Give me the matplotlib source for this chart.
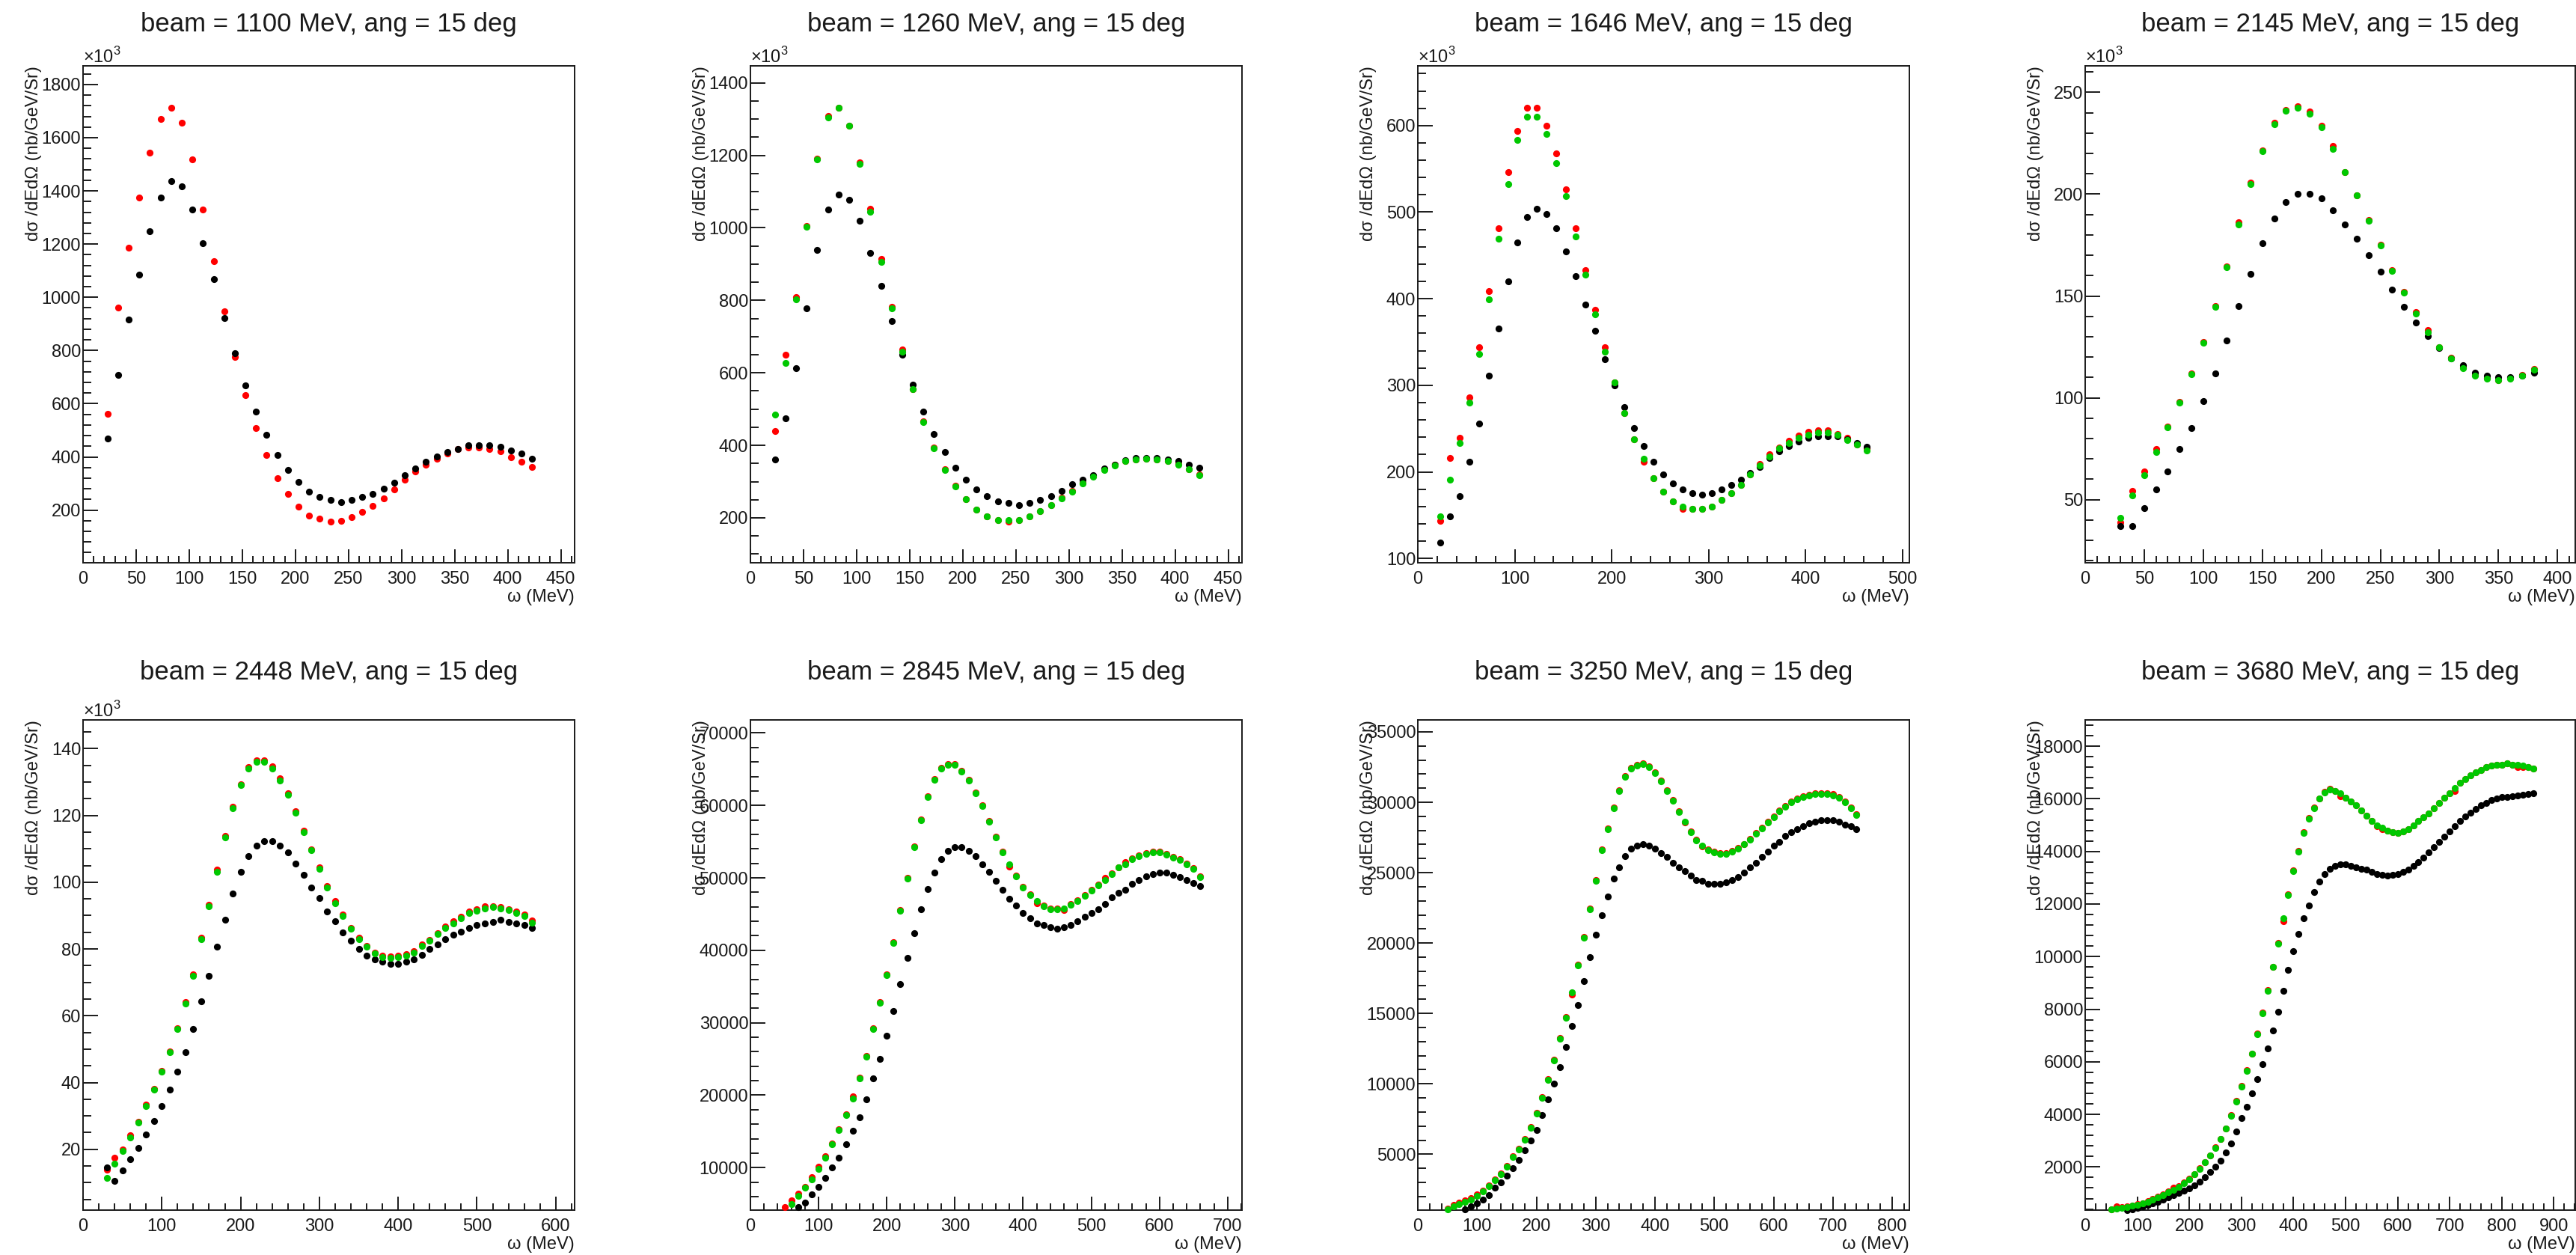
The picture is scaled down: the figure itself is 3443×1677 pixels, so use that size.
import numpy as np
import matplotlib
matplotlib.use('Agg')
import matplotlib.pyplot as plt
from matplotlib.ticker import MultipleLocator, FuncFormatter

plt.rcParams['font.family'] = ['Liberation Sans', 'DejaVu Sans']
plt.rcParams['mathtext.fontset'] = 'custom'
plt.rcParams['mathtext.rm'] = 'Liberation Sans'

nan = np.nan

beams = [1100, 1260, 1646, 2145, 2448, 2845, 3250, 3680]
angle = 15

# omega grid of each panel (MeV), step 10
omega_start = [23, 23, 23, 30, 30, 50, 50, 50]
omega_stop = [423, 423, 463, 380, 570, 660, 740, 860]

# cross sections, in units of 10^3 nb/GeV/Sr
black_1100 = [468, 708, 916, 1085, 1248, 1375, 1438, 1417, 1329, 1204, 1067, 921, 789, 670, 569, 482, 406,
              351, 307, 269, 250, 237, 231, 237, 250, 262, 280, 304, 331, 357, 382, 402, 418, 430, 443, 443,
              443, 438, 424, 412, 394]
red_1100 = [563, 960, 1185, 1375, 1544, 1670, 1713, 1657, 1518, 1329, 1135, 948, 777, 633, 507, 406, 320,
            262, 212, 179, 167, 156, 160, 174, 192, 216, 243, 277, 314, 345, 370, 394, 414, 430, 436, 436,
            430, 420, 400, 381, 361]

black_1260 = [360, 474, 613, 779, 940, 1051, 1091, 1078, 1019, 930, 840, 743, 650, 568, 494, 432, 382, 338,
              306, 278, 259, 245, 241, 236, 241, 250, 259, 274, 292, 306, 318, 336, 347, 358, 366, 366, 366,
              360, 356, 347, 338]
red_1260 = [439, 651, 809, 1006, 1190, 1308, 1332, 1282, 1181, 1052, 914, 783, 665, 556, 466, 393, 334, 288,
            252, 223, 204, 194, 189, 194, 204, 219, 235, 255, 274, 296, 315, 334, 346, 357, 361, 364, 361,
            357, 348, 335, 319]
green_1260 = [484, 628, 802, 1004, 1189, 1304, 1331, 1281, 1176, 1045, 907, 778, 659, 554, 465, 392, 333,
              287, 251, 222, 203, 193, 193, 193, 203, 218, 234, 254, 273, 295, 314, 333, 345, 356, 360, 363,
              360, 356, 347, 334, 318]

black_1646 = [118, 149, 172, 212, 256, 311, 366, 420, 465, 494, 504, 498, 481, 455, 426, 393, 363, 330, 300,
              275, 251, 230, 212, 197, 187, 180, 175, 174, 175, 180, 185, 191, 199, 206, 216, 224, 230, 235,
              239, 241, 241, 241, 238, 233, 229]
red_1646 = [143, 216, 239, 286, 344, 409, 481, 546, 594, 621, 621, 600, 568, 526, 481, 433, 387, 344, 303,
            268, 238, 212, 193, 177, 166, 157, 157, 157, 160, 168, 175, 185, 197, 209, 220, 228, 236, 242,
            246, 248, 248, 244, 239, 232, 227]
green_1646 = [149, 191, 233, 280, 336, 399, 469, 532, 583, 610, 610, 590, 557, 519, 472, 428, 382, 339, 303,
              268, 238, 215, 193, 177, 166, 160, 157, 157, 160, 168, 175, 185, 197, 207, 218, 227, 233, 239,
              243, 245, 245, 243, 237, 232, 225]

black_2145 = [37, 37, 46, 55, 64, 75, 85, 98.5, 112, 128, 145, 161, 176, 188, 196, 200, 200, 198, 192, 185,
              178, 170, 162, 153, 144.5, 137, 130.5, 124.5, 119.5, 116, 112.5, 111, 110, 110, 111, 112.5]
red_2145 = [39, 54.3, 64, 75, 86, 98, 112, 127.5, 145, 164.5, 186.3, 205.5, 221.5, 235, 241.5, 243, 240.6,
            233.5, 223.5, 211, 199.5, 187.3, 175, 162.6, 152, 142, 133.3, 125, 119.6, 114.8, 111.2, 109.7,
            108.7, 109.7, 111.2, 114]
green_2145 = [41, 52, 62, 73.5, 85.5, 97.5, 111.5, 127, 144.5, 164, 185, 205, 221, 234.5, 241, 242.5, 239.5,
              233, 222.3, 210.7, 199.3, 187, 174.8, 162.4, 151.8, 141.2, 132, 124.7, 119.4, 114.6, 111,
              109.5, 108.5, 109.5, 111, 113.7]

black_2448 = [14.5, 10.5, 13.6, 17.1, 20.5, 24.5, 28.4, 32.9, 37.9, 43.3, 49.1, 56, 64.3, 72, 80.6, 88.8,
              96.6, 103, 107.8, 110.9, 112.4, 112.4, 110.9, 108.9, 105.5, 102.2, 98.5, 95.3, 91.3, 88.3, 85,
              82.4, 80, 78, 76.8, 76.1, 75.5, 75.5, 76.1, 76.8, 78.2, 80, 81.4, 83, 84.2, 85.1, 86.3, 87.1,
              87.7, 88.1, 88.8, 88.1, 87.7, 87.1, 86.3]
red_2448 = [13.8, 17.6, 20, 24.2, 28.3, 33.3, 38, 43.5, 49.4, 56.2, 64, 72.3, 83.3, 93.2, 103.8, 113.8, 122.6,
            129.4, 134.4, 136.5, 136.5, 134.7, 131.2, 126.6, 121.2, 115.4, 109.9, 104.5, 98.9, 94.3, 90.3,
            86.4, 83.4, 81, 79, 78, 77.7, 78, 78.4, 79.4, 81.4, 82.8, 84.8, 86.7, 88.3, 89.7, 91.3, 91.9,
            92.7, 92.8, 92.5, 92, 91.3, 90.3, 88.6]
green_2448 = [11.5, 15.6, 19.5, 23.5, 28, 33, 37.8, 43.3, 49.2, 56, 63.7, 72, 83, 92.8, 103, 113.4, 122.2,
              129, 134, 136.1, 136.1, 134, 130.5, 126.2, 120.8, 115, 109.5, 104.1, 98.5, 93.7, 89.9, 86, 83,
              80.6, 78.6, 77.6, 77.3, 77.6, 78, 78.8, 81, 82.4, 84.4, 86.3, 87.7, 89.3, 90.7, 91.5, 92.1,
              92.5, 92.1, 91.6, 90.7, 89.9, 87.9]

black_2845 = [nan, nan, 4.6, 5.2, 6.35, 7.35, 8.6, 10.0, 11.4, 13.2, 15.1, 17.0, 19.4, 22.3, 25.0, 28.2,
              31.6, 35.3, 39.0, 42.4, 45.7, 48.5, 50.7, 52.6, 53.7, 54.2, 54.2, 53.7, 53.0, 51.9, 50.8, 49.6,
              48.3, 47.1, 46.2, 45.1, 44.4, 43.7, 43.5, 43.2, 43.0, 43.2, 43.5, 44.0, 44.6, 45.2, 45.7, 46.4,
              47.3, 47.9, 48.4, 49.2, 49.7, 50.2, 50.5, 50.7, 50.7, 50.4, 50.1, 49.7, 49.3, 48.9]
red_2845 = [4.6, 5.5, 6.4, 7.3, 8.7, 10.1, 11.6, 13.3, 15.3, 17.4, 19.8, 22.4, 25.4, 29.2, 32.9, 36.7, 41.1,
            45.6, 50.0, 54.3, 58.1, 61.3, 63.6, 65.2, 65.7, 65.7, 64.8, 63.5, 61.8, 60.0, 57.9, 55.7, 53.6,
            51.6, 50.3, 48.8, 47.7, 46.5, 46.2, 45.8, 45.8, 45.6, 46.4, 46.9, 47.6, 48.3, 49.1, 50.0, 50.6,
            51.5, 52.2, 52.7, 53.1, 53.4, 53.6, 53.6, 53.3, 52.9, 52.6, 52.0, 51.3, 50.2]
green_2845 = [4.1, 5.0, 6.1, 7.2, 8.4, 9.8, 11.4, 13.2, 15.2, 17.3, 19.5, 22.3, 25.3, 29.1, 32.8, 36.6, 41.0,
              45.5, 49.9, 54.2, 58.0, 61.2, 63.5, 65.1, 65.6, 65.6, 64.7, 63.4, 61.7, 59.9, 57.8, 55.6, 53.5,
              51.9, 50.2, 48.7, 47.6, 46.8, 46.1, 45.7, 45.7, 45.8, 46.3, 46.8, 47.5, 48.2, 49.0, 49.7, 50.5,
              51.4, 51.9, 52.6, 53.0, 53.3, 53.5, 53.5, 53.2, 52.8, 52.5, 51.9, 51.2, 50.1]

black_3250 = [nan, nan, nan, 1.1, 1.3, 1.5, 1.8, 2.1, 2.6, 3.0, 3.5, 4.0, 4.6, 5.3, 6.0, 6.7, 7.8, 8.9, 10.0,
              11.2, 12.6, 14.1, 15.6, 17.3, 19.0, 20.6, 22.0, 23.3, 24.6, 25.4, 26.2, 26.7, 26.9, 27.0, 26.9,
              26.7, 26.4, 26.1, 25.7, 25.4, 25.1, 24.8, 24.5, 24.4, 24.2, 24.2, 24.2, 24.3, 24.5, 24.7, 25.0,
              25.4, 25.7, 26.1, 26.5, 26.9, 27.2, 27.6, 27.9, 28.1, 28.3, 28.5, 28.6, 28.7, 28.7, 28.7, 28.6,
              28.4, 28.3, 28.1]
red_3250 = [1.15, 1.4, 1.55, 1.7, 1.9, 2.15, 2.4, 2.8, 3.2, 3.65, 4.15, 4.85, 5.4, 6.1, 6.95, 7.95, 9.05,
            10.35, 11.7, 13.25, 14.75, 16.35, 18.45, 20.45, 22.45, 24.45, 26.65, 28.15, 29.65, 30.85, 31.85,
            32.45, 32.65, 32.75, 32.55, 32.15, 31.55, 30.85, 30.15, 29.35, 28.55, 27.95, 27.35, 26.85, 26.65,
            26.5, 26.4, 26.4, 26.55, 26.75, 27.05, 27.4, 27.8, 28.2, 28.6, 29.0, 29.4, 29.75, 30.05, 30.25,
            30.45, 30.55, 30.65, 30.65, 30.65, 30.6, 30.35, 30.05, 29.65, 29.15]
green_3250 = [1.1, 1.3, 1.45, 1.6, 1.8, 2.05, 2.35, 2.75, 3.15, 3.6, 4.1, 4.8, 5.35, 6.05, 6.9, 7.9, 9.0, 10.3,
              11.65, 13.2, 14.7, 16.5, 18.4, 20.4, 22.4, 24.4, 26.6, 28.1, 29.6, 30.8, 31.8, 32.4, 32.6, 32.7,
              32.5, 32.1, 31.5, 30.8, 30.1, 29.3, 28.6, 27.9, 27.3, 26.9, 26.6, 26.45, 26.35, 26.35, 26.5,
              26.7, 27.0, 27.35, 27.75, 28.15, 28.55, 28.95, 29.35, 29.7, 30.0, 30.2, 30.4, 30.5, 30.6, 30.6,
              30.6, 30.5, 30.3, 30.0, 29.6, 29.1]

black_3680 = [nan, nan, nan, 0.36, 0.4, 0.44, 0.49, 0.55, 0.61, 0.68, 0.75, 0.83, 0.92, 1.02, 1.1, 1.18, 1.3,
              1.45, 1.62, 1.8, 2.0, 2.25, 2.55, 2.9, 3.35, 3.85, 4.3, 4.8, 5.35, 5.9, 6.5, 7.2, 7.9, 8.7, 9.5,
              10.2, 10.85, 11.45, 11.95, 12.45, 12.85, 13.15, 13.35, 13.45, 13.5, 13.5, 13.45, 13.4, 13.35,
              13.3, 13.22, 13.15, 13.1, 13.07, 13.1, 13.15, 13.22, 13.32, 13.45, 13.6, 13.77, 13.95, 14.15,
              14.35, 14.55, 14.75, 14.95, 15.15, 15.32, 15.48, 15.62, 15.75, 15.85, 15.95, 16.02, 16.06,
              16.08, 16.1, 16.12, 16.15, 16.18, 16.22]
red_3680 = [0.40, 0.50, 0.47, 0.50, 0.54, 0.58, 0.63, 0.70, 0.78, 0.87, 0.96, 1.06, 1.2, 1.28, 1.4, 1.55, 1.74,
            1.95, 2.19, 2.45, 2.74, 3.07, 3.47, 3.97, 4.52, 5.07, 5.67, 6.32, 7.07, 7.87, 8.72, 9.62, 10.52,
            11.35, 12.37, 13.27, 14.02, 14.72, 15.27, 15.67, 16.02, 16.27, 16.37, 16.3, 16.1, 16.05, 15.9,
            15.75, 15.55, 15.35, 15.15, 14.95, 14.85, 14.8, 14.72, 14.7, 14.75, 14.85, 15.0, 15.15, 15.3,
            15.45, 15.65, 15.85, 16.05, 16.2, 16.3, 16.6, 16.75, 16.9, 17.0, 17.1, 17.2, 17.25, 17.3, 17.3,
            17.35, 17.3, 17.2, 17.2, 17.2, 17.15]
green_3680 = [0.38, 0.42, 0.45, 0.48, 0.52, 0.56, 0.61, 0.68, 0.76, 0.85, 0.94, 1.03, 1.13, 1.25, 1.38, 1.53,
              1.72, 1.93, 2.17, 2.43, 2.72, 3.05, 3.45, 3.95, 4.5, 5.05, 5.65, 6.3, 7.05, 7.85, 8.7, 9.6, 10.5,
              11.45, 12.35, 13.25, 14.0, 14.7, 15.25, 15.65, 16.0, 16.25, 16.35, 16.3, 16.2, 16.05, 15.9,
              15.75, 15.55, 15.35, 15.15, 15.0, 14.9, 14.8, 14.72, 14.7, 14.75, 14.85, 15.0, 15.15, 15.3,
              15.45, 15.65, 15.85, 16.05, 16.2, 16.4, 16.6, 16.75, 16.9, 17.0, 17.1, 17.2, 17.25, 17.3, 17.3,
              17.35, 17.3, 17.3, 17.25, 17.2, 17.15]

blacks = [black_1100, black_1260, black_1646, black_2145, black_2448, black_2845, black_3250, black_3680]
reds = [red_1100, red_1260, red_1646, red_2145, red_2448, red_2845, red_3250, red_3680]
greens = [None, green_1260, green_1646, green_2145, green_2448, green_2845, green_3250, green_3680]

# frame ranges and tick steps (same as ROOT drew them)
x_max = [463, 463, 507, 415, 624, 721, 829, 941]
y_lo = [2, 76, 95, 19, 1.8, 4.14, 1.03, 0.36]
y_hi = [1870, 1447, 669, 263, 148.6, 71.8, 35.85, 19.0]
x_major = [50, 50, 100, 50, 100, 100, 100, 100]
y_major = [200, 200, 100, 50, 20, 10, 5, 2]
y_minor = [40, 50, 20, 10, 5, 2, 1, 0.4]

W, H = 3443, 1677
col_left = [111, 1003, 1895, 2787]
col_w = [657, 657, 657, 655]
row_top = [88, 962]
row_bot = [752, 1617]
title_base = [42, 908]

RED = '#ff0000'
GREEN = '#00c800'
INK = '#1a1a1a'

fig = plt.figure(figsize=(W / 100, H / 100), dpi=100)


def draw_panel(i):
    r, c = divmod(i, 4)
    top, bot = row_top[r], row_bot[r]
    fw = col_w[c]
    ax = fig.add_axes([col_left[c] / W, 1 - bot / H, fw / W, (bot - top) / H])
    omega = np.arange(omega_start[i], omega_stop[i] + 1, 10)
    lo, hi = y_lo[i], y_hi[i]
    for vals, col in [(reds[i], RED), (blacks[i], 'black'), (greens[i], GREEN)]:
        if vals is None:
            continue
        y = np.array(vals, dtype=float)
        keep = ~np.isnan(y) & (y >= lo) & (y <= hi)
        ax.plot(omega[keep], y[keep], 'o', color=col, ms=6.6, mew=0, clip_on=False, zorder=3)

    ax.set_xlim(0, x_max[i])
    ax.set_ylim(lo, hi)
    ax.xaxis.set_major_locator(MultipleLocator(x_major[i]))
    ax.xaxis.set_minor_locator(MultipleLocator(x_major[i] / 5))
    ax.yaxis.set_major_locator(MultipleLocator(y_major[i]))
    ax.yaxis.set_minor_locator(MultipleLocator(y_minor[i]))
    if i >= 5:
        ax.yaxis.set_major_formatter(FuncFormatter(lambda v, p: '%d' % round(v * 1000)))
    else:
        ax.yaxis.set_major_formatter(FuncFormatter(lambda v, p: '%d' % round(v)))
        ax.text(0, 1 + 4 / (bot - top), '×10$^{3}$', transform=ax.transAxes, ha='left',
                va='baseline', fontsize=17, color=INK)

    for s in ax.spines.values():
        s.set_linewidth(1.4)
        s.set_color(INK)
    ax.tick_params(which='both', direction='in', top=False, right=False, width=1.4,
                   color=INK, labelcolor=INK, labelsize=17)
    ax.tick_params(axis='x', which='major', length=13, pad=8)
    ax.tick_params(axis='x', which='minor', length=6.5)
    ax.tick_params(axis='y', which='major', length=14.4, pad=2)
    ax.tick_params(axis='y', which='minor', length=8)

    ax.text(1, -46 / (bot - top), 'ω (MeV)', transform=ax.transAxes, ha='right', va='center',
            fontsize=17, color=INK)
    ax.text(-66 / fw, 1, 'dσ /dEdΩ (nb/GeV/Sr)', transform=ax.transAxes, rotation=90,
            ha='center', va='top', fontsize=17, color=INK)
    fig.text((col_left[c] + fw / 2) / W, 1 - title_base[r] / H,
             'beam = %d MeV, ang = %d deg' % (beams[i], angle),
             ha='center', va='baseline', fontsize=25, color=INK)


for i in range(8):
    draw_panel(i)

fig.savefig('out.png', dpi=100)
